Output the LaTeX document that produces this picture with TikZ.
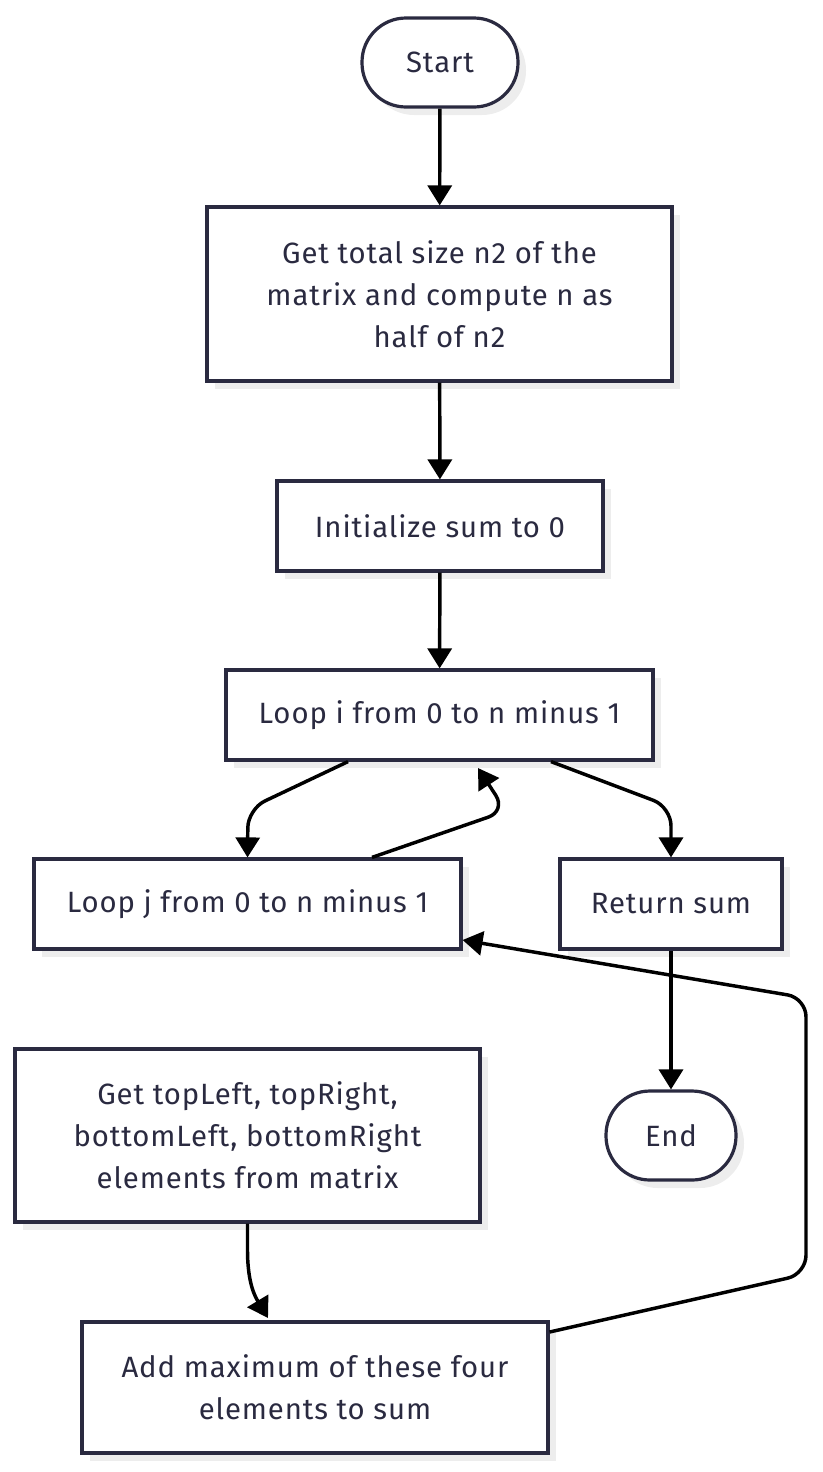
\documentclass[tikz,border=0pt]{standalone}
\usepackage{fontspec}
\setmainfont{Fira Sans}[LetterSpace=3]
\usetikzlibrary{arrows.meta,shadows}
\definecolor{boxline}{HTML}{2A2A40}
\definecolor{shade}{HTML}{EDEDED}
\definecolor{txt}{HTML}{2A2A40}
\begin{document}
\begin{tikzpicture}[x=0.75pt,y=-0.75pt,
  base/.style={draw=boxline, line width=2.4pt, fill=white, text=txt, align=center,
    font=\fontsize{22pt}{31.5pt}\selectfont, inner sep=0pt,
    drop shadow={shadow xshift=6pt, shadow yshift=-6pt, fill=shade, opacity=1}},
  procbox/.style={base, rectangle},
  termbox/.style={base, rectangle, rounded corners=33pt},
  conn/.style={draw=black, line width=2.6pt, -{Triangle[length=15pt,width=18pt]}, rounded corners=14pt}
]
\useasboundingbox (0,0) rectangle (822,1472);

\node[termbox, minimum width=156*0.75pt, minimum height=89*0.75pt] (start) at (440,62.5) {Start};
\node[procbox, minimum width=465*0.75pt, minimum height=174*0.75pt] (b1) at (439.5,294) {Get total size n2 of the\\matrix and compute n as\\half of n2};
\node[procbox, minimum width=326*0.75pt, minimum height=90*0.75pt] (b2) at (440,526) {Initialize sum to 0};
\node[procbox, minimum width=427*0.75pt, minimum height=90*0.75pt] (b3) at (439.5,715) {Loop i from 0 to n minus 1};
\node[procbox, minimum width=427*0.75pt, minimum height=90*0.75pt] (b4) at (247.5,904) {Loop j from 0 to n minus 1};
\node[procbox, minimum width=222*0.75pt, minimum height=90*0.75pt] (ret) at (671,904) {Return sum};
\node[procbox, minimum width=465*0.75pt, minimum height=173*0.75pt] (b5) at (247.5,1135.5) {Get topLeft, topRight,\\bottomLeft, bottomRight\\elements from matrix};
\node[termbox, minimum width=130*0.75pt, minimum height=89*0.75pt] (end) at (671,1135.5) {End};
\node[procbox, minimum width=466*0.75pt, minimum height=131*0.75pt] (b6) at (315,1387.5) {Add maximum of these four\\elements to sum};

\coordinate (loopTip) at (478,768);

\draw[conn] (start) -- (b1);
\draw[conn] (b1) -- (b2);
\draw[conn] (b2) -- (b3);
\draw[conn] (b3.south -| 348,0) -- (248,809) -- (b4.north);
\draw[conn] (b3.south -| 551,0) -- (671,807) -- (ret.north);
\draw[conn] (b4.north -| 372,0) -- (506,811) -- (loopTip);
\draw[conn] (ret) -- (end);
\draw[conn, rounded corners=0pt] (b5.south) -- (247.5,1250) .. controls (247.5,1285) and (256,1298) .. (268,1318);
\draw[conn] (b6.east |- 0,1332) -- (806,1274) -- (806,998) -- (b4.east |- 0,940);
\end{tikzpicture}
\end{document}
